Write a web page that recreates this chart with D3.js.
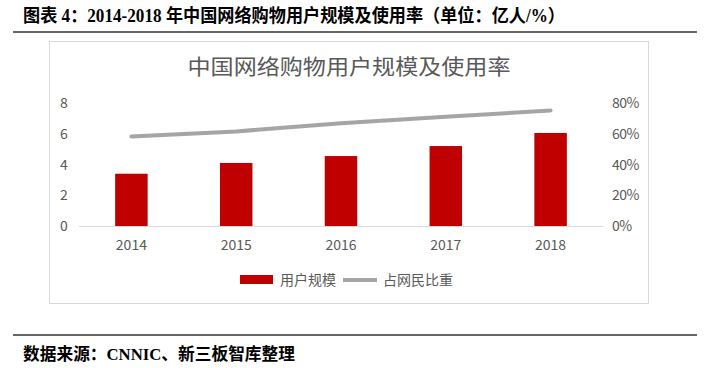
<!DOCTYPE html>
<html>
<head>
<meta charset="utf-8">
<script src="https://cdn.jsdelivr.net/npm/d3@7"></script>
<style>
  body { margin: 0; background: #fff; }
  svg { display: block; }
</style>
</head>
<body>
<div id="chart"></div>
<script>
// Données du graphique
const years = ["2014", "2015", "2016", "2017", "2018"];
const users = [3.4, 4.1, 4.55, 5.2, 6.05];        // 用户规模 (亿人)
const share = [58.2, 61.5, 66.9, 71.0, 75.2];     // 占网民比重 (%)
const leftTicks = [0, 2, 4, 6, 8];
const rightTicks = [0, 20, 40, 60, 80];

const width = 707, height = 368;
const grey = "#595959";
const cjk = "'Noto Sans CJK SC', 'Noto Sans', sans-serif";
const serif = "'Liberation Serif', 'Noto Sans CJK SC', serif";

const svg = d3.select("#chart").append("svg")
  .attr("width", width)
  .attr("height", height);

// En-tête et pied de page
svg.append("text")
  .attr("x", 23).attr("y", 22)
  .attr("textLength", 542).attr("lengthAdjust", "spacingAndGlyphs")
  .style("font-family", serif).style("font-weight", "bold").style("font-size", "18px")
  .attr("fill", "#000")
  .text("图表 4：2014-2018 年中国网络购物用户规模及使用率（单位：亿人/%）");

svg.append("line").attr("x1", 13).attr("x2", 697).attr("y1", 32).attr("y2", 32)
  .attr("stroke", "#333").attr("stroke-width", 1.5);

svg.append("line").attr("x1", 13).attr("x2", 697).attr("y1", 335).attr("y2", 335)
  .attr("stroke", "#333").attr("stroke-width", 1.5);

svg.append("text")
  .attr("x", 23).attr("y", 360)
  .attr("textLength", 272).attr("lengthAdjust", "spacingAndGlyphs")
  .style("font-family", serif).style("font-weight", "bold").style("font-size", "17px")
  .attr("fill", "#000")
  .text("数据来源：CNNIC、新三板智库整理");

// Cadre du graphique
svg.append("rect")
  .attr("x", 49.5).attr("y", 41.5).attr("width", 599).attr("height", 262)
  .attr("fill", "#fff").attr("stroke", "#d9d9d9");

svg.append("text")
  .attr("x", 349).attr("y", 74)
  .attr("text-anchor", "middle")
  .attr("textLength", 323).attr("lengthAdjust", "spacingAndGlyphs")
  .style("font-family", cjk).style("font-size", "21px")
  .attr("fill", grey)
  .text("中国网络购物用户规模及使用率");

// Echelles
const x = d3.scaleBand().domain(years).range([79, 603]).paddingInner(0.69).paddingOuter(0.345);
const xc = d3.scalePoint().domain(years).range([79, 603]).padding(0.5);
const y = d3.scaleLinear().domain([0, 8]).range([226, 103]);
const y2 = d3.scaleLinear().domain([0, 80]).range([226, 103]);

// Barres
svg.append("g").selectAll("rect")
  .data(years)
  .join("rect")
    .attr("x", d => x(d))
    .attr("width", x.bandwidth())
    .attr("y", (d, i) => y(users[i]))
    .attr("height", (d, i) => y(0) - y(users[i]))
    .attr("fill", "#c00000");

// Axe horizontal
svg.append("line").attr("x1", 79).attr("x2", 603).attr("y1", 226.5).attr("y2", 226.5)
  .attr("stroke", "#d9d9d9");

svg.append("g").selectAll("text")
  .data(years)
  .join("text")
    .attr("x", d => xc(d))
    .attr("y", 250)
    .attr("text-anchor", "middle")
    .style("font-family", cjk).style("font-size", "14px")
    .attr("fill", grey)
    .text(d => d);

// Axe gauche
svg.append("g").selectAll("text")
  .data(leftTicks)
  .join("text")
    .attr("x", 64)
    .attr("y", d => y(d) + 5)
    .attr("text-anchor", "middle")
    .style("font-family", cjk).style("font-size", "14px")
    .attr("fill", grey)
    .text(d => d);

// Axe droit
svg.append("g").selectAll("text")
  .data(rightTicks)
  .join("text")
    .attr("x", 612)
    .attr("y", d => y2(d) + 5)
    .attr("text-anchor", "start")
    .style("font-family", cjk).style("font-size", "14px")
    .style("letter-spacing", "-0.5px")
    .attr("fill", grey)
    .text(d => d + "%");

// Courbe (segments droits comme dans Excel)
const line = d3.line()
  .x((d, i) => xc(years[i]))
  .y(d => y2(d));

svg.append("path")
  .datum(share)
  .attr("d", line)
  .attr("fill", "none")
  .attr("stroke", "#a5a5a5")
  .attr("stroke-width", 4)
  .attr("stroke-linecap", "round")
  .attr("stroke-linejoin", "round");

// Légende
svg.append("rect").attr("x", 240).attr("y", 275).attr("width", 33).attr("height", 9)
  .attr("fill", "#c00000");
svg.append("text").attr("x", 280).attr("y", 285)
  .style("font-family", cjk).style("font-size", "14px")
  .attr("fill", grey).text("用户规模");
svg.append("line").attr("x1", 343).attr("x2", 377).attr("y1", 280).attr("y2", 280)
  .attr("stroke", "#a5a5a5").attr("stroke-width", 4);
svg.append("text").attr("x", 383).attr("y", 285)
  .style("font-family", cjk).style("font-size", "14px")
  .attr("fill", grey).text("占网民比重");
</script>
</body>
</html>
